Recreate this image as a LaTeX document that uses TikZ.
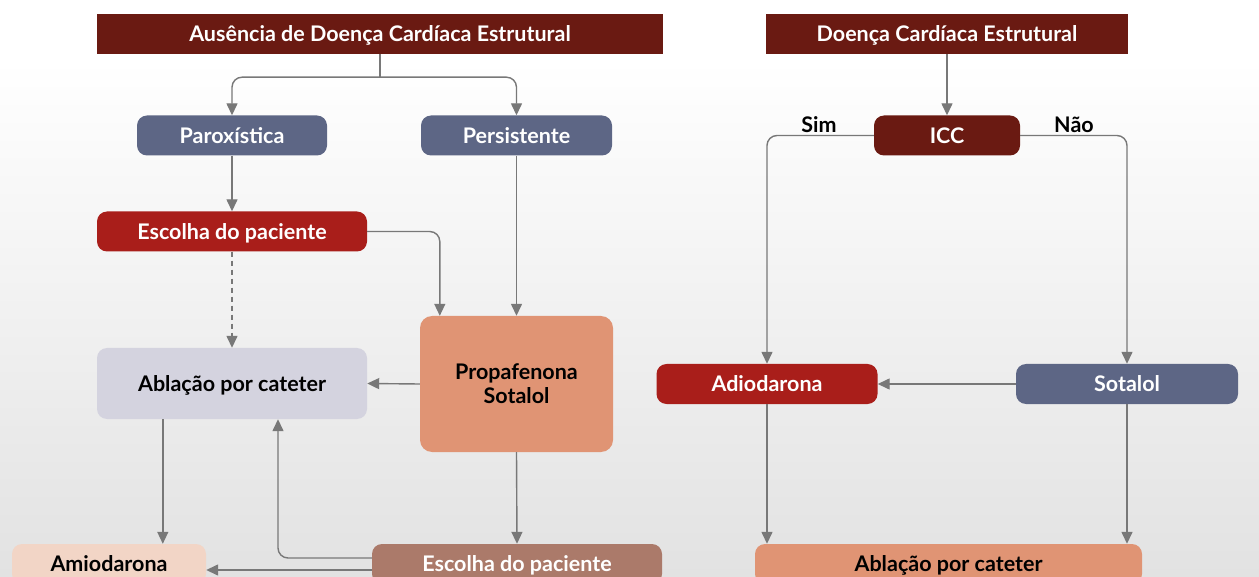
\documentclass[tikz,border=0pt]{standalone}
\usepackage{fontspec}
\setmainfont{Lato}
\usetikzlibrary{arrows.meta,calc}
\definecolor{maroon}{HTML}{6A1A12}
\definecolor{redbox}{HTML}{A91E1A}
\definecolor{slate}{HTML}{5D6685}
\definecolor{lavender}{HTML}{D4D3DF}
\definecolor{salmon}{HTML}{E09474}
\definecolor{brownbox}{HTML}{AB7A6A}
\definecolor{peach}{HTML}{F2D5C6}
\definecolor{linegray}{HTML}{787878}
\definecolor{bggray}{HTML}{E2E2E2}
\begin{document}
\begin{tikzpicture}[x=1pt,y=-1pt,
  base/.style={rounded corners=10pt, minimum height=40pt, inner sep=0pt,
    font=\fontsize{21.5}{24}\selectfont\bfseries, text=white, align=center},
  box/.style={base, text height=20pt, text depth=4.4pt},
  hdr/.style={box, rounded corners=0pt, fill=maroon},
  conn/.style={draw=linegray, line width=1.4pt, -{Triangle[length=12pt,width=11pt]}},
  plain/.style={draw=linegray, line width=1.4pt},
  lbl/.style={font=\fontsize{21.5}{24}\selectfont\bfseries, text=black}]
\useasboundingbox (0,0) rectangle (1259,577);
\clip (0,0) rectangle (1259,577);
\fill[white] (0,0) rectangle (1259,60);
\shade[top color=white, bottom color=bggray] (0,60) rectangle (1259,577);

% left
\node[hdr, minimum width=566pt] (h1) at (380,34) {Ausência de Doença Cardíaca Estrutural};
\node[box, fill=slate, minimum width=190pt] (par) at (232,135.5) {Paroxística};
\node[box, fill=slate, minimum width=191pt] (pers) at (516.5,135.5) {Persistente};
\node[box, fill=redbox, minimum width=270pt] (esc) at (232,231.5) {Escolha do paciente};
\node[box, fill=lavender, text=black, minimum width=270pt, minimum height=71pt] (abl) at (232,383.5) {Ablação por cateter};
\node[base, fill=salmon, text=black, minimum width=193pt, minimum height=136pt, rounded corners=12pt] (prop) at (516.5,384) {Propafenona\\Sotalol};
\node[box, fill=peach, text=black, minimum width=194pt] (ami) at (109,564) {Amiodarona};
\node[box, fill=brownbox, minimum width=290pt] (esc2) at (517,564) {Escolha do paciente};

% right
\node[hdr, minimum width=362pt] (h2) at (947,34) {Doença Cardíaca Estrutural};
\node[box, fill=maroon, minimum width=146pt] (icc) at (947,135.5) {ICC};
\node[box, fill=redbox, minimum width=221pt] (adi) at (767,384) {Adiodarona};
\node[box, fill=slate, minimum width=222pt] (sot) at (1127,384) {Sotalol};
\node[box, fill=salmon, text=black, minimum width=387pt] (abl2) at (948.5,564) {Ablação por cateter};
\node[lbl] (sim) at (819,125) {Sim};
\node[lbl] (nao) at (1074,125) {Não};

% left connectors
\draw[plain] (h1.south) -- ($(h1.south)+(0,23)$) coordinate (j1);
\draw[conn, rounded corners=10pt] (j1) -| (par.north);
\draw[conn, rounded corners=10pt] (j1) -| (pers.north);
\draw[conn] (par.south) -- (esc.north);
\coordinate (pin) at ([xshift=20pt]prop.north west);
\draw[conn, rounded corners=10pt] (esc.east) -| (pin);
\draw[conn] (pers.south) -- (prop.north);
\draw[conn, dash pattern=on 5pt off 4pt] (esc.south) -- (abl.north);
\draw[conn] (prop.west) -- (abl.east);
\coordinate (a1) at ([xshift=66pt]abl.south west);
\draw[conn] (a1) -- (a1 |- ami.north);
\draw[conn] (prop.south) -- (esc2.north);
\coordinate (b1) at ([xshift=46pt]abl.south);
\draw[conn, rounded corners=10pt] ([yshift=6pt]esc2.west) -| (b1);
\draw[conn] ([yshift=-6pt]esc2.west) -- ([yshift=-6pt]ami.east);

% right connectors
\draw[conn] (h2.south) -- (icc.north);
\draw[conn, rounded corners=10pt] (icc.west) -| (adi.north);
\draw[conn, rounded corners=10pt] (icc.east) -| (sot.north);
\draw[conn] (sot.west) -- (adi.east);
\draw[conn] (adi.south) -- (adi.south |- abl2.north);
\draw[conn] (sot.south) -- (sot.south |- abl2.north);
\end{tikzpicture}
\end{document}
